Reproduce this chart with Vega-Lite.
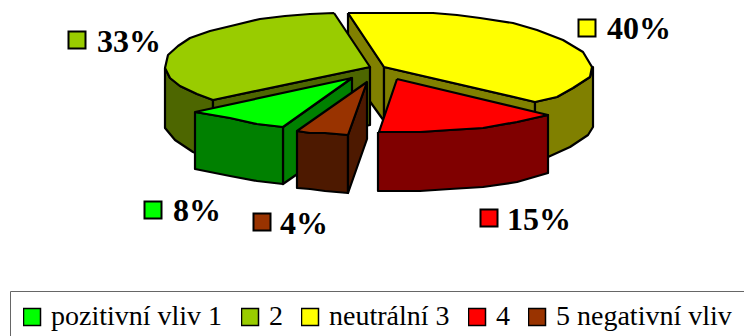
{
  "$schema": "https://vega.github.io/schema/vega-lite/v6.json",
  "width": 744,
  "height": 336,
  "padding": 0,
  "autosize": "none",
  "background": "white",
  "datasets": {
    "faces": [
      {"face":"y-left","part":"neutrální 3 stěna","i":1,"x":348,"y":13},{"face":"y-left","part":"neutrální 3 stěna","i":2,"x":384,"y":67},{"face":"y-left","part":"neutrální 3 stěna","i":3,"x":384,"y":121},{"face":"y-left","part":"neutrální 3 stěna","i":4,"x":348,"y":71},{"face":"y-left","part":"neutrální 3 stěna","i":5,"x":348,"y":13},
      {"face":"y-inner","part":"neutrální 3 stěna","i":1,"x":384,"y":67},{"face":"y-inner","part":"neutrální 3 stěna","i":2,"x":535,"y":102},{"face":"y-inner","part":"neutrální 3 stěna","i":3,"x":535,"y":160},{"face":"y-inner","part":"neutrální 3 stěna","i":4,"x":384,"y":125},{"face":"y-inner","part":"neutrální 3 stěna","i":5,"x":384,"y":67},
      {"face":"y-outer","part":"neutrální 3 stěna","i":1,"x":535,"y":102},{"face":"y-outer","part":"neutrální 3 stěna","i":2,"x":557,"y":97},{"face":"y-outer","part":"neutrální 3 stěna","i":3,"x":573,"y":88},{"face":"y-outer","part":"neutrální 3 stěna","i":4,"x":590,"y":77},{"face":"y-outer","part":"neutrální 3 stěna","i":5,"x":593,"y":67},{"face":"y-outer","part":"neutrální 3 stěna","i":6,"x":593,"y":127},{"face":"y-outer","part":"neutrální 3 stěna","i":7,"x":588,"y":135},{"face":"y-outer","part":"neutrální 3 stěna","i":8,"x":570,"y":147},{"face":"y-outer","part":"neutrální 3 stěna","i":9,"x":548,"y":157},{"face":"y-outer","part":"neutrální 3 stěna","i":10,"x":535,"y":160},{"face":"y-outer","part":"neutrální 3 stěna","i":11,"x":535,"y":102},
      {"face":"y-top","part":"neutrální 3","i":1,"x":348,"y":13},{"face":"y-top","part":"neutrální 3","i":2,"x":433,"y":13},{"face":"y-top","part":"neutrální 3","i":3,"x":457,"y":15},{"face":"y-top","part":"neutrální 3","i":4,"x":480,"y":18},{"face":"y-top","part":"neutrální 3","i":5,"x":513,"y":23},{"face":"y-top","part":"neutrální 3","i":6,"x":537,"y":30},{"face":"y-top","part":"neutrální 3","i":7,"x":563,"y":40},{"face":"y-top","part":"neutrální 3","i":8,"x":583,"y":52},{"face":"y-top","part":"neutrální 3","i":9,"x":592,"y":67},{"face":"y-top","part":"neutrální 3","i":10,"x":590,"y":77},{"face":"y-top","part":"neutrální 3","i":11,"x":573,"y":88},{"face":"y-top","part":"neutrální 3","i":12,"x":557,"y":97},{"face":"y-top","part":"neutrální 3","i":13,"x":535,"y":102},{"face":"y-top","part":"neutrální 3","i":14,"x":384,"y":67},{"face":"y-top","part":"neutrální 3","i":15,"x":348,"y":13},
      {"face":"o-outer","part":"2 stěna","i":1,"x":165,"y":68},{"face":"o-outer","part":"2 stěna","i":2,"x":170,"y":78},{"face":"o-outer","part":"2 stěna","i":3,"x":180,"y":86},{"face":"o-outer","part":"2 stěna","i":4,"x":197,"y":94},{"face":"o-outer","part":"2 stěna","i":5,"x":213,"y":100},{"face":"o-outer","part":"2 stěna","i":6,"x":213,"y":160},{"face":"o-outer","part":"2 stěna","i":7,"x":193,"y":152},{"face":"o-outer","part":"2 stěna","i":8,"x":175,"y":140},{"face":"o-outer","part":"2 stěna","i":9,"x":165,"y":128},{"face":"o-outer","part":"2 stěna","i":10,"x":165,"y":68},
      {"face":"o-inner","part":"2 stěna","i":1,"x":213,"y":100},{"face":"o-inner","part":"2 stěna","i":2,"x":370,"y":67},{"face":"o-inner","part":"2 stěna","i":3,"x":370,"y":125},{"face":"o-inner","part":"2 stěna","i":4,"x":213,"y":160},{"face":"o-inner","part":"2 stěna","i":5,"x":213,"y":100},
      {"face":"o-top","part":"2","i":1,"x":334,"y":13},{"face":"o-top","part":"2","i":2,"x":370,"y":67},{"face":"o-top","part":"2","i":3,"x":213,"y":100},{"face":"o-top","part":"2","i":4,"x":197,"y":94},{"face":"o-top","part":"2","i":5,"x":180,"y":86},{"face":"o-top","part":"2","i":6,"x":170,"y":78},{"face":"o-top","part":"2","i":7,"x":165,"y":68},{"face":"o-top","part":"2","i":8,"x":168,"y":55},{"face":"o-top","part":"2","i":9,"x":178,"y":46},{"face":"o-top","part":"2","i":10,"x":190,"y":38},{"face":"o-top","part":"2","i":11,"x":210,"y":31},{"face":"o-top","part":"2","i":12,"x":235,"y":25},{"face":"o-top","part":"2","i":13,"x":260,"y":19},{"face":"o-top","part":"2","i":14,"x":285,"y":16},{"face":"o-top","part":"2","i":15,"x":310,"y":14},{"face":"o-top","part":"2","i":16,"x":334,"y":13},
      {"face":"g-right","part":"pozitivní vliv 1 stěna","i":1,"x":283,"y":127},{"face":"g-right","part":"pozitivní vliv 1 stěna","i":2,"x":352,"y":78},{"face":"g-right","part":"pozitivní vliv 1 stěna","i":3,"x":352,"y":136},{"face":"g-right","part":"pozitivní vliv 1 stěna","i":4,"x":283,"y":184},{"face":"g-right","part":"pozitivní vliv 1 stěna","i":5,"x":283,"y":127},
      {"face":"g-front","part":"pozitivní vliv 1 stěna","i":1,"x":195,"y":112},{"face":"g-front","part":"pozitivní vliv 1 stěna","i":2,"x":230,"y":118},{"face":"g-front","part":"pozitivní vliv 1 stěna","i":3,"x":257,"y":124},{"face":"g-front","part":"pozitivní vliv 1 stěna","i":4,"x":283,"y":127},{"face":"g-front","part":"pozitivní vliv 1 stěna","i":5,"x":283,"y":184},{"face":"g-front","part":"pozitivní vliv 1 stěna","i":6,"x":257,"y":181},{"face":"g-front","part":"pozitivní vliv 1 stěna","i":7,"x":230,"y":176},{"face":"g-front","part":"pozitivní vliv 1 stěna","i":8,"x":195,"y":169},{"face":"g-front","part":"pozitivní vliv 1 stěna","i":9,"x":195,"y":112},
      {"face":"g-top","part":"pozitivní vliv 1","i":1,"x":352,"y":78},{"face":"g-top","part":"pozitivní vliv 1","i":2,"x":283,"y":127},{"face":"g-top","part":"pozitivní vliv 1","i":3,"x":257,"y":124},{"face":"g-top","part":"pozitivní vliv 1","i":4,"x":230,"y":118},{"face":"g-top","part":"pozitivní vliv 1","i":5,"x":195,"y":112},{"face":"g-top","part":"pozitivní vliv 1","i":6,"x":352,"y":78},
      {"face":"b-front","part":"5 negativní vliv stěna","i":1,"x":297,"y":131},{"face":"b-front","part":"5 negativní vliv stěna","i":2,"x":310,"y":133},{"face":"b-front","part":"5 negativní vliv stěna","i":3,"x":325,"y":133},{"face":"b-front","part":"5 negativní vliv stěna","i":4,"x":348,"y":135},{"face":"b-front","part":"5 negativní vliv stěna","i":5,"x":348,"y":193},{"face":"b-front","part":"5 negativní vliv stěna","i":6,"x":325,"y":191},{"face":"b-front","part":"5 negativní vliv stěna","i":7,"x":310,"y":189},{"face":"b-front","part":"5 negativní vliv stěna","i":8,"x":297,"y":188},{"face":"b-front","part":"5 negativní vliv stěna","i":9,"x":297,"y":131},
      {"face":"b-right","part":"5 negativní vliv stěna","i":1,"x":348,"y":135},{"face":"b-right","part":"5 negativní vliv stěna","i":2,"x":367,"y":82},{"face":"b-right","part":"5 negativní vliv stěna","i":3,"x":367,"y":139},{"face":"b-right","part":"5 negativní vliv stěna","i":4,"x":348,"y":193},{"face":"b-right","part":"5 negativní vliv stěna","i":5,"x":348,"y":135},
      {"face":"b-top","part":"5 negativní vliv","i":1,"x":367,"y":82},{"face":"b-top","part":"5 negativní vliv","i":2,"x":348,"y":135},{"face":"b-top","part":"5 negativní vliv","i":3,"x":325,"y":133},{"face":"b-top","part":"5 negativní vliv","i":4,"x":310,"y":133},{"face":"b-top","part":"5 negativní vliv","i":5,"x":297,"y":131},{"face":"b-top","part":"5 negativní vliv","i":6,"x":367,"y":82},
      {"face":"r-front","part":"4 stěna","i":1,"x":378,"y":132},{"face":"r-front","part":"4 stěna","i":2,"x":420,"y":132},{"face":"r-front","part":"4 stěna","i":3,"x":450,"y":130},{"face":"r-front","part":"4 stěna","i":4,"x":483,"y":128},{"face":"r-front","part":"4 stěna","i":5,"x":517,"y":122},{"face":"r-front","part":"4 stěna","i":6,"x":548,"y":115},{"face":"r-front","part":"4 stěna","i":7,"x":548,"y":173},{"face":"r-front","part":"4 stěna","i":8,"x":517,"y":182},{"face":"r-front","part":"4 stěna","i":9,"x":483,"y":187},{"face":"r-front","part":"4 stěna","i":10,"x":450,"y":189},{"face":"r-front","part":"4 stěna","i":11,"x":420,"y":191},{"face":"r-front","part":"4 stěna","i":12,"x":378,"y":191},{"face":"r-front","part":"4 stěna","i":13,"x":378,"y":132},
      {"face":"r-top","part":"4","i":1,"x":397,"y":79},{"face":"r-top","part":"4","i":2,"x":548,"y":115},{"face":"r-top","part":"4","i":3,"x":517,"y":122},{"face":"r-top","part":"4","i":4,"x":483,"y":128},{"face":"r-top","part":"4","i":5,"x":450,"y":130},{"face":"r-top","part":"4","i":6,"x":420,"y":132},{"face":"r-top","part":"4","i":7,"x":379,"y":132},{"face":"r-top","part":"4","i":8,"x":397,"y":79}
    ],
    "shares": [
      {"part":"pozitivní vliv 1","share":0.08,"kx":153,"ky":210,"tx":173,"ty":221},
      {"part":"2","share":0.33,"kx":77,"ky":40,"tx":97,"ty":52},
      {"part":"neutrální 3","share":0.40,"kx":587,"ky":28,"tx":607,"ty":39},
      {"part":"4","share":0.15,"kx":489,"ky":218,"tx":507,"ty":230},
      {"part":"5 negativní vliv","share":0.04,"kx":262,"ky":222,"tx":280,"ty":234}
    ]
  },
  "layer": [
    {
      "data": {"name": "faces"},
      "mark": {"type": "line", "stroke": "black", "strokeWidth": 2.2, "strokeJoin": "round", "clip": false},
      "encoding": {
        "x": {"field": "x", "type": "quantitative", "scale": {"domain": [0, 744], "nice": false, "zero": false}, "axis": null},
        "y": {"field": "y", "type": "quantitative", "scale": {"domain": [336, 0], "nice": false, "zero": false}, "axis": null},
        "detail": {"field": "face"},
        "order": {"field": "i", "type": "quantitative"},
        "fill": {"field": "part", "type": "nominal"}
      }
    },
    {
      "data": {"name": "shares"},
      "mark": {"type": "point", "shape": "square", "filled": true, "size": 289, "stroke": "black", "strokeWidth": 2, "opacity": 1},
      "encoding": {
        "x": {"field": "kx", "type": "quantitative"},
        "y": {"field": "ky", "type": "quantitative"},
        "fill": {
          "field": "part",
          "type": "nominal",
          "scale": {
            "domain": ["pozitivní vliv 1", "2", "neutrální 3", "4", "5 negativní vliv", "pozitivní vliv 1 stěna", "2 stěna", "neutrální 3 stěna", "4 stěna", "5 negativní vliv stěna"],
            "range": ["#00ff00", "#99cc00", "#ffff00", "#ff0000", "#993300", "#008000", "#4d6600", "#808000", "#800000", "#4d1900"]
          },
          "legend": {
            "values": ["pozitivní vliv 1", "2", "neutrální 3", "4", "5 negativní vliv"],
            "title": null,
            "orient": "none",
            "direction": "horizontal",
            "columns": 5,
            "gridAlign": "none",
            "legendX": 10,
            "legendY": 291,
            "padding": 13,
            "strokeColor": "#666666",
            "symbolType": "square",
            "symbolSize": 289,
            "symbolOffset": -5,
            "symbolOpacity": 1,
            "labelFont": "Liberation Serif",
            "labelFontSize": 28,
            "labelColor": "black",
            "labelOffset": 5,
            "labelLimit": 500,
            "columnPadding": 18,
            "clipHeight": 26,
            "encode": {
              "symbols": {"update": {"stroke": {"value": "black"}, "strokeWidth": {"value": 2}}}
            }
          }
        }
      }
    },
    {
      "data": {"name": "shares"},
      "mark": {"type": "text", "align": "left", "baseline": "alphabetic", "font": "Liberation Serif", "fontWeight": "bold", "fontSize": 32, "color": "black"},
      "encoding": {
        "x": {"field": "tx", "type": "quantitative"},
        "y": {"field": "ty", "type": "quantitative"},
        "text": {"field": "share", "type": "quantitative", "format": ".0%"}
      }
    }
  ],
  "config": {"view": {"stroke": null}}
}
